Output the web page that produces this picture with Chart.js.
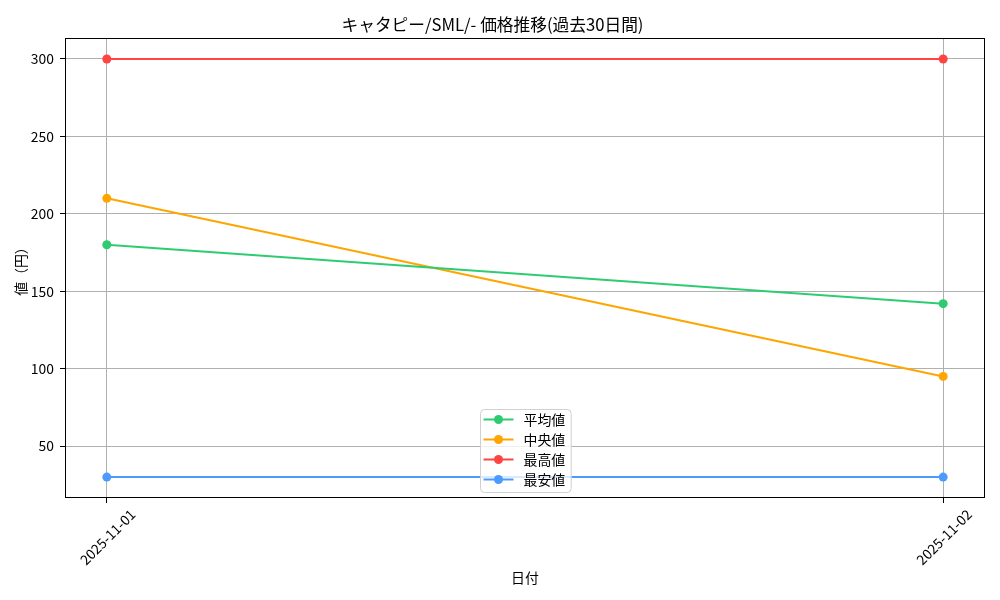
<!DOCTYPE html>
<html>
<head>
<meta charset="utf-8">
<script src="https://cdn.jsdelivr.net/npm/chart.js@4/dist/chart.umd.min.js"></script>
<style>
html,body{margin:0;padding:0;background:#fff;}
canvas{display:block;}
</style>
</head>
<body>
<canvas id="c" width="1000" height="600"></canvas>
<script>
const FONT = '"Noto Sans CJK JP", "DejaVu Sans", sans-serif';
const titleText = 'キャタピー/SML/- 価格推移(過去30日間)';
const xTitle = '日付';
const yTitle = '値（円）';
const dates = ['2025-11-01', '2025-11-02'];
const seriesNames = ['平均値', '中央値', '最高値', '最安値'];
const avgValues = [180, 142];
const medianValues = [210, 95];
const maxValues = [300, 300];
const minValues = [30, 30];
const seriesColors = ['#2ecc71', '#ffa500', '#ff4444', '#4d9aff'];
const yTicks = [50, 100, 150, 200, 250, 300];

const allSeries = [avgValues, medianValues, maxValues, minValues];
const datasets = allSeries.map((vals, i) => ({
  label: seriesNames[i],
  data: vals.map((v, j) => ({x: j, y: v})),
  borderColor: seriesColors[i],
  backgroundColor: seriesColors[i],
  pointBackgroundColor: seriesColors[i],
  pointBorderColor: seriesColors[i],
  pointBorderWidth: 0,
  pointRadius: 4.5,
  borderWidth: 2,
  tension: 0,
  clip: false
}));

const frameLegend = {
  id: 'frameLegend',
  afterDatasetsDraw(chart) {
    const ctx = chart.ctx;
    const a = chart.chartArea;
    ctx.save();
    // frame
    ctx.strokeStyle = '#000';
    ctx.lineWidth = 1;
    ctx.strokeRect(Math.round(a.left) + 0.5, Math.round(a.top) + 0.5, Math.round(a.right - a.left) - 1, Math.round(a.bottom - a.top) - 1);
    // legend
    ctx.font = '13.9px ' + FONT;
    const ds = chart.data.datasets;
    let maxW = 0;
    ds.forEach(d => { maxW = Math.max(maxW, ctx.measureText(d.label).width); });
    const rowH = 20;
    const boxW = 43 + maxW + 6;
    const boxH = ds.length * rowH + 3;
    const cx = (a.left + a.right) / 2;
    const bx = Math.round(cx - boxW / 2) + 0.5;
    const by = Math.round(a.bottom - 6 - boxH) + 0.5;
    const r = 4;
    ctx.beginPath();
    ctx.moveTo(bx + r, by);
    ctx.arcTo(bx + boxW, by, bx + boxW, by + boxH, r);
    ctx.arcTo(bx + boxW, by + boxH, bx, by + boxH, r);
    ctx.arcTo(bx, by + boxH, bx, by, r);
    ctx.arcTo(bx, by, bx + boxW, by, r);
    ctx.closePath();
    ctx.fillStyle = 'rgba(255,255,255,0.8)';
    ctx.fill();
    ctx.strokeStyle = '#d0d0d0';
    ctx.lineWidth = 1;
    ctx.stroke();
    ds.forEach((d, i) => {
      const y = by + 10 + rowH * i;
      ctx.strokeStyle = d.borderColor;
      ctx.lineWidth = 2;
      ctx.beginPath();
      ctx.moveTo(bx + 3, y);
      ctx.lineTo(bx + 33, y);
      ctx.stroke();
      ctx.fillStyle = d.borderColor;
      ctx.beginPath();
      ctx.arc(bx + 18, y, 4.5, 0, Math.PI * 2);
      ctx.fill();
      ctx.fillStyle = '#000';
      ctx.textBaseline = 'middle';
      ctx.textAlign = 'left';
      ctx.fillText(d.label, bx + 43, y);
    });
    ctx.restore();
  }
};

new Chart(document.getElementById('c'), {
  type: 'line',
  data: {datasets},
  options: {
    responsive: false,
    animation: false,
    layout: {padding: {left: 0, right: 15, top: 0, bottom: 0}},
    plugins: {
      legend: {display: false},
      tooltip: {enabled: false},
      title: {
        display: true,
        text: titleText,
        color: '#000',
        font: {family: FONT, size: 16.7, weight: 'normal'},
        padding: {top: 15, bottom: 3}
      }
    },
    scales: {
      x: {
        type: 'linear',
        min: -0.05,
        max: 1.05,
        afterBuildTicks(scale) { scale.ticks = dates.map((d, i) => ({value: i})); },
        afterFit(scale) { scale.height = 102; },
        border: {display: false},
        grid: {color: '#b0b0b0', lineWidth: 1, drawTicks: true, tickLength: 5, tickColor: '#000'},
        ticks: {
          callback: (v) => dates[v] ?? '',
          minRotation: 45, maxRotation: 45,
          labelOffset: 26,
          padding: 3,
          color: '#000',
          font: {family: FONT, size: 13.9}
        },
        title: {display: true, text: xTitle, color: '#000', font: {family: FONT, size: 13.9}, padding: {top: 14, bottom: 14}}
      },
      y: {
        type: 'linear',
        min: 16.5,
        max: 313.5,
        afterBuildTicks(scale) { scale.ticks = yTicks.map(v => ({value: v})); },
        afterFit(scale) { scale.width = 65; },
        border: {display: false},
        grid: {color: '#b0b0b0', lineWidth: 1, drawTicks: true, tickLength: 5, tickColor: '#000'},
        ticks: {color: '#000', padding: 6, font: {family: FONT, size: 13.9}},
        title: {display: true, text: yTitle, color: '#000', font: {family: FONT, size: 13.9}, padding: {top: 12, bottom: 12}}
      }
    }
  },
  plugins: [frameLegend]
});
</script>
</body>
</html>
